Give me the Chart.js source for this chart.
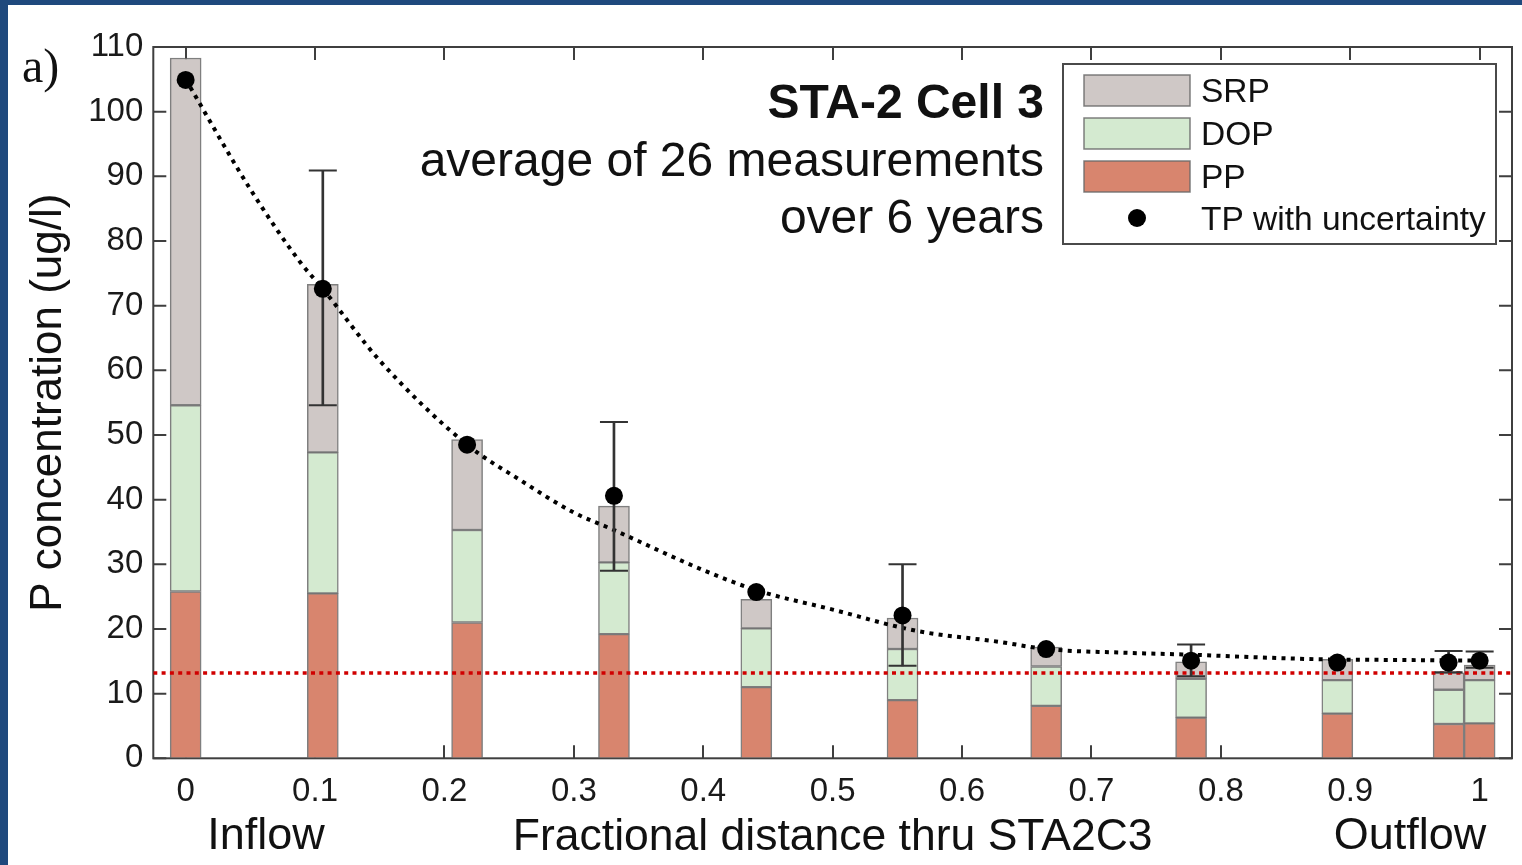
<!DOCTYPE html>
<html><head><meta charset="utf-8">
<script src="https://cdn.jsdelivr.net/npm/chart.js@4.4.1/dist/chart.umd.min.js"></script>
<style>
html,body{margin:0;padding:0;background:#1F497D;width:1522px;height:865px;overflow:hidden}
#wrap{position:absolute;left:8px;top:5px;width:1514px;height:860px;background:#fff}
canvas{display:block}
</style></head><body><div id="wrap"><canvas id="c" width="1514" height="860"></canvas></div>
<script>
// ---- data ----
const xPos = [0, 0.106, 0.2175, 0.331, 0.441, 0.554, 0.665, 0.777, 0.890, 0.976, 1.0];
const PP   = [25.8, 25.5, 21.0, 19.2, 11.0, 9.0, 8.1, 6.3, 6.9, 5.3, 5.4];
const DOP  = [28.8, 21.8, 14.3, 11.1, 9.1, 7.9, 6.1, 6.0, 5.2, 5.3, 6.7];
const SRP  = [53.7, 26.0, 14.0, 8.7, 4.5, 4.8, 3.0, 2.6, 3.2, 2.6, 2.3];
const TP   = [104.9, 72.6, 48.5, 40.6, 25.7, 22.1, 16.9, 15.1, 14.8, 14.8, 15.1];
const errLow  = [null, 54.6, null, 29.0, null, 14.3, null, 12.7, null, 13.3, 14.0];
const errHigh = [null, 90.9, null, 52.0, null, 30.0, null, 17.6, null, 16.6, 16.5];
const curveX = [0, 0.05, 0.089, 0.106, 0.15, 0.2175, 0.2587, 0.3, 0.331, 0.4, 0.441, 0.5, 0.565, 0.629, 0.665, 0.73, 0.78, 0.83, 0.88, 0.94, 1.0];
const curveY = [105, 88, 76.6, 72.6, 61.5, 48.5, 43.0, 38.0, 35.3, 29.1, 26.0, 23.0, 19.7, 18.0, 16.9, 16.3, 16.0, 15.6, 15.3, 15.2, 15.1];
const targetLevel = 13.2;
const xTicks = [0, 0.1, 0.2, 0.3, 0.4, 0.5, 0.6, 0.7, 0.8, 0.9, 1];
const xTickLabels = ['0','0.1','0.2','0.3','0.4','0.5','0.6','0.7','0.8','0.9','1'];
const yTicks = [0,10,20,30,40,50,60,70,80,90,100,110];
const seriesNames = ['SRP','DOP','PP','TP with uncertainty'];

const X_MIN = -0.025, X_MAX = 1.025;
const FONT = '"Liberation Sans", Arial, sans-serif';
const C_SRP = 'rgb(207,200,198)', C_DOP = 'rgb(212,234,208)', C_PP = 'rgb(216,133,110)';
const BAR_BORDER = 'rgba(105,105,105,0.85)';

const ppData  = xPos.map((x,i)=>({x, y:[0, PP[i]]}));
const dopData = xPos.map((x,i)=>({x, y:[PP[i], PP[i]+DOP[i]]}));
const srpData = xPos.map((x,i)=>({x, y:[PP[i]+DOP[i], PP[i]+DOP[i]+SRP[i]]}));
const tpData  = xPos.map((x,i)=>({x, y:TP[i]}));
const errData = [], capData = [];
xPos.forEach((x,i)=>{ if(errLow[i]!=null){ errData.push({x, y:[errLow[i], errHigh[i]]}); capData.push({x,y:errLow[i]},{x,y:errHigh[i]}); }});
const curveData = curveX.map((x,i)=>({x, y:curveY[i]}));
const targetData = [{x:X_MIN, y:targetLevel},{x:X_MAX, y:targetLevel}];

const framePlugin = {
  id:'frame',
  beforeDatasetsDraw(chart){
    const {ctx, chartArea:a, scales:{x,y}} = chart;
    ctx.save();
    ctx.strokeStyle = '#3f3f3f'; ctx.lineWidth = 2;
    const L = 13;
    ctx.beginPath();
    xTicks.forEach(v=>{ const p = Math.round(x.getPixelForValue(v));
      ctx.moveTo(p, a.bottom); ctx.lineTo(p, a.bottom-L);
      ctx.moveTo(p, a.top); ctx.lineTo(p, a.top+L); });
    yTicks.forEach(v=>{ const p = y.getPixelForValue(v);
      ctx.moveTo(a.left, p); ctx.lineTo(a.left+L, p);
      ctx.moveTo(a.right, p); ctx.lineTo(a.right-L, p); });
    ctx.stroke();
    ctx.strokeRect(a.left, a.top, a.right-a.left, a.bottom-a.top);
    ctx.restore();
  }
};

const textPlugin = {
  id:'texts',
  afterDraw(chart){
    const ctx = chart.ctx;
    ctx.save();
    ctx.fillStyle = '#111';
    // panel label
    ctx.font = '48px "Liberation Serif", "Times New Roman", serif';
    ctx.textAlign = 'left'; ctx.textBaseline = 'alphabetic';
    ctx.fillText('a)', 14, 77);
    // Inflow / Outflow
    ctx.font = '45px ' + FONT;
    ctx.textAlign = 'center'; ctx.textBaseline = 'middle';
    ctx.fillText('Inflow', 258, 832);
    ctx.fillText('Outflow', 1402, 832);
    // annotation
    ctx.textAlign = 'right'; ctx.textBaseline = 'alphabetic';
    ctx.font = 'bold 48px ' + FONT;
    ctx.fillText('STA-2 Cell 3', 1036, 113);
    ctx.font = '48px ' + FONT;
    ctx.fillText('average of 26 measurements', 1036, 171);
    ctx.fillText('over 6 years', 1036, 228);
    // legend
    ctx.fillStyle = '#fff';
    ctx.fillRect(1055, 59, 433, 180);
    ctx.strokeStyle = '#4a4a4a'; ctx.lineWidth = 2;
    ctx.strokeRect(1055, 59, 433, 180);
    const sw = [[C_SRP,70],[C_DOP,113],[C_PP,156]];
    sw.forEach(([c,t])=>{ ctx.fillStyle=c; ctx.fillRect(1076,t,106,31);
      ctx.strokeStyle = BAR_BORDER; ctx.lineWidth=1.5; ctx.strokeRect(1076,t,106,31); });
    ctx.fillStyle='#000'; ctx.beginPath(); ctx.arc(1129,213,9,0,Math.PI*2); ctx.fill();
    ctx.fillStyle='#111';
    ctx.font = '33.5px ' + FONT; ctx.textAlign='left'; ctx.textBaseline='middle';
    [88,131,174,216].forEach((yy,i)=>ctx.fillText(seriesNames[i], 1193, yy));
    ctx.restore();
  }
};

new Chart(document.getElementById('c'), {
  type:'bar',
  data:{ datasets:[
    {type:'scatter', label:'TP with uncertainty', data:tpData, pointRadius:9, pointHoverRadius:9, backgroundColor:'#000', borderColor:'#000', borderWidth:0, order:0},
    {type:'scatter', label:'caps', data:capData, pointStyle:'line', pointRadius:14, pointHoverRadius:14, borderColor:'#333', borderWidth:2, order:1},
    {type:'bar', label:'err', data:errData, backgroundColor:'#333', borderWidth:0, barThickness:2, grouped:false, order:2},
    {type:'line', label:'fit', data:curveData, borderColor:'#000', borderWidth:4, borderDash:[4,5.3], borderCapStyle:'butt', pointRadius:0, cubicInterpolationMode:'monotone', fill:false, order:3},
    {type:'line', label:'target', data:targetData, borderColor:'#d00000', borderWidth:3.5, borderDash:[4,4.3], borderCapStyle:'butt', pointRadius:0, fill:false, order:4},
    {type:'bar', label:'SRP', data:srpData, backgroundColor:C_SRP, borderColor:BAR_BORDER, borderWidth:1.5, borderSkipped:false, barThickness:31, grouped:false, order:5},
    {type:'bar', label:'DOP', data:dopData, backgroundColor:C_DOP, borderColor:BAR_BORDER, borderWidth:1.5, borderSkipped:false, barThickness:31, grouped:false, order:6},
    {type:'bar', label:'PP', data:ppData, backgroundColor:C_PP, borderColor:BAR_BORDER, borderWidth:1.5, borderSkipped:false, barThickness:31, grouped:false, order:7}
  ]},
  options:{
    responsive:false, animation:false, devicePixelRatio:1,
    layout:{autoPadding:false, padding:{left:0, top:42, right:10, bottom:0}},
    plugins:{legend:{display:false}, tooltip:{enabled:false}},
    scales:{
      x:{type:'linear', min:X_MIN, max:X_MAX, offset:false,
        grid:{display:false, drawTicks:false}, border:{display:false},
        afterBuildTicks:(s)=>{ s.ticks = xTicks.map(v=>({value:v})); },
        afterFit:(s)=>{ s.height = 106.7; s.paddingLeft = 0; s.paddingRight = 0; },
        ticks:{padding:14, color:'#1a1a1a', font:{family:FONT, size:33}, maxRotation:0, autoSkip:false,
          callback:(v,i)=>xTickLabels[i]},
        title:{display:true, text:'Fractional distance thru STA2C3', color:'#111', font:{family:FONT, size:44.5}, padding:{top:0,bottom:1}}
      },
      y:{min:0, max:110,
        grid:{display:false, drawTicks:false}, border:{display:false},
        afterBuildTicks:(s)=>{ s.ticks = yTicks.map(v=>({value:v})); },
        afterFit:(s)=>{ s.width = 145.3; s.paddingTop = 0; s.paddingBottom = 0; },
        ticks:{padding:10, color:'#1a1a1a', font:{family:FONT, size:33}},
        title:{display:true, text:'P concentration (ug/l)', color:'#111', font:{family:FONT, size:44}, padding:{top:14,bottom:0}}
      }
    }
  },
  plugins:[framePlugin, textPlugin]
});
</script></body></html>
